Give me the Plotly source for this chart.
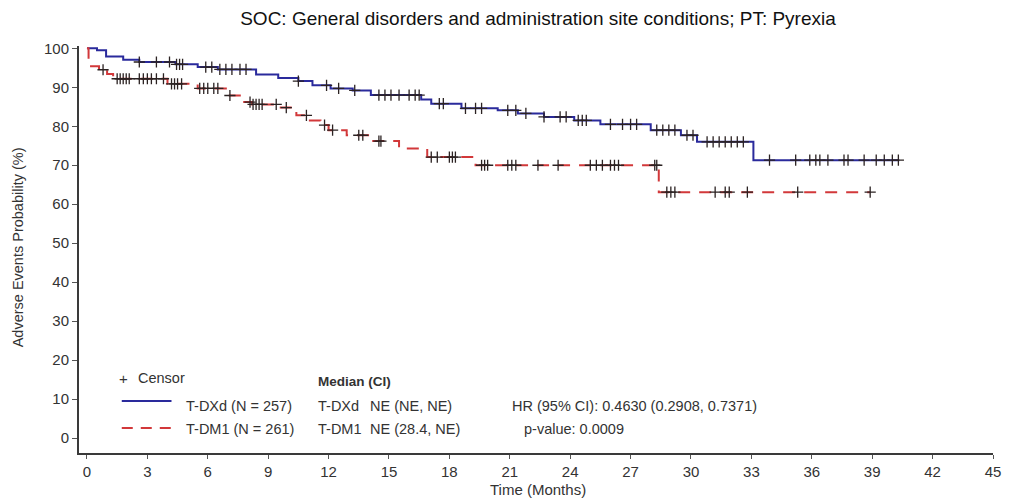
import numpy as np
import plotly.graph_objects as go

# ---- Kaplan-Meier data (time in months, probability in %) ----
dxd_event_t = [0, 0.5, 0.95, 1.8, 2.6, 4.4, 5.5, 6.5, 8.4, 9.5, 10.5, 11.2, 12.1, 13.2,
               14.1, 16.6, 17.1, 18.6, 20.4, 21.4, 22.7, 24.2, 25.5, 28.0, 29.5, 30.3, 33.1]
dxd_surv = [100, 99.5, 97.9, 97.1, 96.5, 95.9, 95.2, 94.6, 93.3, 92.4, 91.6, 90.5, 89.7, 89.2,
            88.0, 86.9, 85.8, 84.6, 84.1, 83.3, 82.4, 81.5, 80.5, 79.0, 77.7, 76.0, 71.3]
dxd_last_t = 40.35
dxd_censor_t = [2.6, 3.45, 4.1, 4.45, 4.6, 4.75, 5.9, 6.2, 6.6, 6.9, 7.2, 7.6, 7.9, 10.5, 11.9,
                12.5, 13.3, 14.5, 14.8, 15.1, 15.5, 16.0, 16.3, 16.5, 17.5, 17.7, 18.8, 19.3,
                19.6, 20.9, 21.3, 21.8, 22.7, 23.5, 23.8, 24.4, 24.6, 24.8, 26.0, 26.6, 27.0,
                27.3, 28.3, 28.6, 28.9, 29.2, 29.8, 30.1, 30.8, 31.1, 31.4, 31.7, 32.0, 32.3,
                32.6, 33.9, 35.2, 35.9, 36.2, 36.4, 36.8, 37.6, 37.8, 38.6, 39.2, 39.6, 40.0, 40.3]

dm1_event_t = [0, 0.08, 0.6, 1.0, 1.3, 4.0, 5.5, 7.0, 7.7, 8.2, 9.5, 10.4, 11.0, 11.6, 12.0,
               12.9, 14.1, 15.5, 16.9, 19.3, 28.4]
dm1_surv = [100, 95.4, 94.5, 93.4, 92.2, 90.9, 89.7, 87.9, 86.2, 85.6, 84.8, 82.8, 81.5, 80.3,
            79.0, 77.7, 76.2, 74.3, 72.1, 70.0, 63.1]
dm1_last_t = 38.9
dm1_censor_t = [0.8, 1.5, 1.65, 1.8, 1.95, 2.1, 2.6, 2.8, 3.0, 3.2, 3.45, 3.8, 4.2, 4.35, 4.5,
                4.7, 5.6, 5.8, 6.0, 6.3, 6.5, 7.1, 8.1, 8.25, 8.4, 8.55, 8.7, 9.4, 9.9, 10.9,
                11.8, 12.2, 13.5, 13.7, 14.5, 14.6, 17.1, 17.4, 18.0, 18.15, 18.3, 19.6, 19.75,
                19.9, 20.9, 21.1, 21.3, 22.4, 23.4, 25.0, 25.3, 25.6, 26.0, 26.2, 26.4, 28.2,
                28.3, 28.8, 29.0, 29.2, 31.2, 31.7, 31.9, 32.8, 35.3, 38.9]

x_ticks = list(range(0, 46, 3))
y_ticks = list(range(0, 101, 10))

FONT = "Arial, Liberation Sans, sans-serif"
W, H = 1013, 500
ML, MR, MT, MB = 79, 15, 46, 47
PW, PH = W - ML - MR, H - MT - MB


def px(x):
    return (x - ML) / PW


def py(y):
    return (H - MB - y) / PH


def km_curve(times, surv, last_t):
    return list(times) + [last_t], list(surv) + [surv[-1]]


def at_times(times, surv, ct):
    idx = np.searchsorted(np.asarray(times), np.asarray(ct), side="right") - 1
    return np.asarray(surv)[idx]


BLUE = "#2a2a9c"
RED = "#d2383a"
CENS = "#2b2222"

fig = go.Figure()

bx, by = km_curve(dxd_event_t, dxd_surv, dxd_last_t)
rx, ry = km_curve(dm1_event_t, dm1_surv, dm1_last_t)

fig.add_trace(go.Scatter(x=bx, y=by, mode="lines", line=dict(color=BLUE, width=2, shape="hv"),
                         showlegend=False, hoverinfo="skip"))
fig.add_trace(go.Scatter(x=rx, y=ry, mode="lines",
                         line=dict(color=RED, width=2, shape="hv", dash="12px,9px"),
                         showlegend=False, hoverinfo="skip"))
fig.add_trace(go.Scatter(x=dxd_censor_t, y=at_times(dxd_event_t, dxd_surv, dxd_censor_t),
                         mode="markers", showlegend=False, cliponaxis=False,
                         marker=dict(symbol="cross-thin", size=8, line=dict(color=CENS, width=1.3))))
fig.add_trace(go.Scatter(x=dm1_censor_t, y=at_times(dm1_event_t, dm1_surv, dm1_censor_t),
                         mode="markers", showlegend=False, cliponaxis=False,
                         marker=dict(symbol="cross-thin", size=8, line=dict(color=CENS, width=1.3))))

# legend lines inside the plot
fig.add_shape(type="line", xref="paper", yref="paper", x0=px(122), x1=px(172),
              y0=py(401), y1=py(401), line=dict(color=BLUE, width=2))
fig.add_shape(type="line", xref="paper", yref="paper", x0=px(122), x1=px(172),
              y0=py(428), y1=py(428), line=dict(color=RED, width=2, dash="11px,8px"))

TXT = "#333333"


def note(text, x, y, size=14.5, anchor="left", bold=False, color=TXT):
    if bold:
        text = "<b>" + text + "</b>"
    fig.add_annotation(text=text, xref="paper", yref="paper", x=px(x), y=py(y),
                       xanchor=anchor, yanchor="middle", showarrow=False,
                       font=dict(family=FONT, size=size, color=color))


note("+", 117, 378, size=15)
note("Censor", 136, 378)
note("T-DXd (N = 257)", 185, 406)
note("T-DM1 (N = 261)", 185, 429)
note("Median (CI)", 317, 381, bold=True, size=13.5)
note("T-DXd", 317, 406)
note("NE (NE, NE)", 370, 406)
note("T-DM1", 317, 429)
note("NE (28.4, NE)", 370, 429)
note("HR (95% CI): 0.4630 (0.2908, 0.7371)", 512, 406)
note("p-value: 0.0009", 524, 429)

# axis titles
fig.add_annotation(text="Adverse Events Probability (%)", xref="paper", yref="paper",
                   x=px(18), y=py(247), textangle=-90, showarrow=False,
                   xanchor="center", yanchor="middle", font=dict(family=FONT, size=14.5, color=TXT))
fig.add_annotation(text="Time (Months)", xref="paper", yref="paper",
                   x=px(541), y=py(489), showarrow=False,
                   xanchor="center", yanchor="middle", font=dict(family=FONT, size=15, color=TXT))

fig.update_layout(
    width=W, height=H,
    margin=dict(l=ML, r=MR, t=MT, b=MB),
    paper_bgcolor="white", plot_bgcolor="white",
    title=dict(text="SOC: General disorders and administration site conditions; PT: Pyrexia",
               x=538 / W, y=1 - 18 / H, xanchor="center", yanchor="middle",
               font=dict(family=FONT, size=19, color="#111111")),
    xaxis=dict(range=[-8 / ((998 - 87) / 45), 45], tickvals=x_ticks, ticktext=[str(v) for v in x_ticks],
               showgrid=False, zeroline=False, showline=True, linecolor="#3a3a3a", linewidth=2,
               ticks="outside", ticklen=4, tickwidth=1, tickcolor="#555555",
               tickfont=dict(family=FONT, size=15, color=TXT)),
    yaxis=dict(range=[-15 / 3.9, 100.6], tickvals=y_ticks, ticktext=[str(v) for v in y_ticks],
               showgrid=False, zeroline=False, showline=True, linecolor="#3a3a3a", linewidth=2,
               ticks="outside", ticklen=5, tickwidth=1, tickcolor="#555555",
               tickfont=dict(family=FONT, size=15, color=TXT)),
)

fig.write_html("out.html")
